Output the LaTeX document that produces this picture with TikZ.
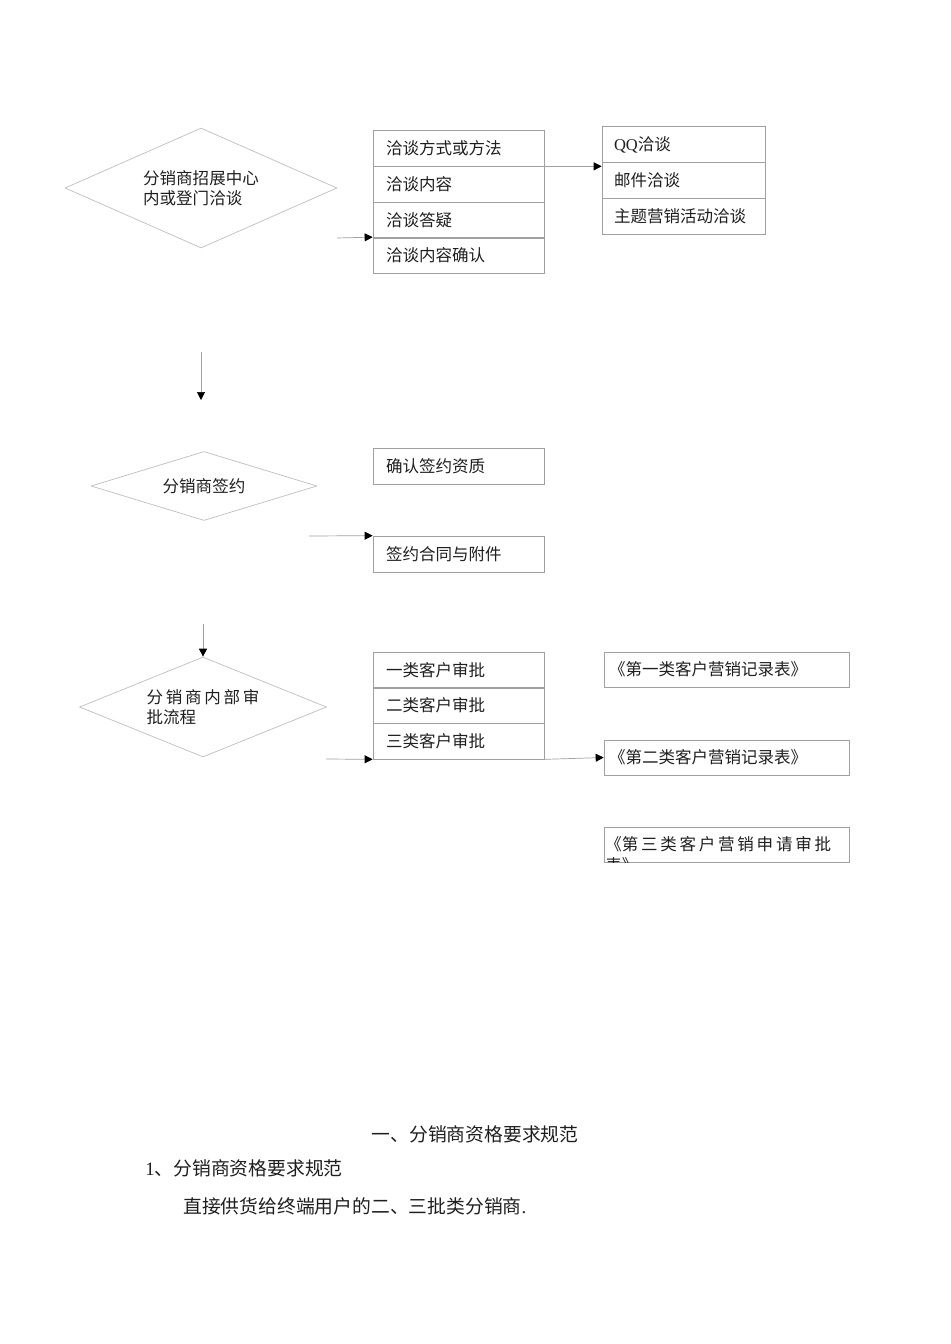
\documentclass[tikz,border=0pt]{standalone}
\usepackage{fontspec}
\setmainfont{Liberation Serif}
\newfontfamily\cjk{Noto Sans CJK SC}
\usetikzlibrary{shapes.geometric,arrows.meta,positioning}
\definecolor{boxgray}{RGB}{160,160,160}
\definecolor{diagray}{RGB}{190,190,190}
\definecolor{inkgray}{RGB}{30,30,30}

\tikzset{
	cell/.style={draw=boxgray,rectangle,minimum width=3.42cm,minimum height=0.72cm,
		text width=2.9cm,inner xsep=0.26cm,inner ysep=0pt,align=left,
		font=\cjk\fontsize{9.4}{11}\selectfont,text=inkgray},
	way/.style={cell,minimum width=3.26cm,text width=2.78cm,inner xsep=0.24cm},
	form/.style={cell,minimum width=4.9cm,minimum height=0.7cm,text width=4.7cm,inner xsep=0.1cm},
	decision/.style={diamond,draw=diagray,inner sep=0pt,align=left,
		font=\cjk\fontsize{9.4}{11.2}\selectfont,text=inkgray},
	flow/.style={draw=boxgray,-{Triangle[black,length=1.6mm,width=1.6mm]}},
	para/.style={inner sep=0pt,font=\cjk\fontsize{10.7}{13}\selectfont,text=inkgray}
}

\begin{document}
\begin{tikzpicture}[x=0.02cm,y=-0.02cm]
	\useasboundingbox (0,0) rectangle (950,1344);
	% first step
	\node[decision,aspect=2.27,minimum width=5.44cm,minimum height=2.4cm] (d1) at (201,188) {分销商招展中心\\内或登门洽谈};
	\node[cell] (t1) at (458.5,148) {洽谈方式或方法};
	\node[cell] (t2) at (458.5,184) {洽谈内容};
	\node[cell] (t3) at (458.5,220) {洽谈答疑};
	\node[cell] (t4) at (458.5,255.5) {洽谈内容确认};
	\node[way] (q1) at (683.5,144.5) {{\rmfamily QQ}洽谈};
	\node[way] (q2) at (683.5,180) {邮件洽谈};
	\node[way] (q3) at (683.5,216) {主题营销活动洽谈};
	\coordinate (d1out) at (337,238);
	\draw[flow] (d1out) -- (t4.north west);
	\draw[flow] (t1.south east) -- (t1.south east -| q1.west);
	\coordinate (down1) at (201,352);
	\coordinate (down1end) at (201,400);
	\draw[flow] (down1) -- (down1end);

	% second step
	\node[decision,aspect=3.28,minimum width=4.52cm,minimum height=1.38cm] (d2) at (204,486) {分销商签约};
	\node[cell] (s1) at (458.5,466.5) {确认签约资质};
	\node[cell] (s2) at (458.5,554) {签约合同与附件};
	\coordinate (d2out) at (309,536);
	\draw[flow] (d2out) -- (s2.north west);

	% third step
	\node[decision,aspect=2.47,minimum width=4.94cm,minimum height=2cm] (d3) at (203,707) {分\,销\,商\,内\,部\,审\\批流程};
	\coordinate (down2) at (203,624);
	\draw[flow] (down2) -- (d3.north);
	\node[cell] (a1) at (458.5,670) {一类客户审批};
	\node[cell] (a2) at (458.5,705.5) {二类客户审批};
	\node[cell] (a3) at (458.5,741) {三类客户审批};
	\node[form] (r1) at (726.5,669.5) {《第一类客户营销记录表》};
	\node[form] (r2) at (726.5,757.5) {《第二类客户营销记录表》};
	\node[form] (r3) at (726.5,844.5) {};
	\begin{scope}
		\clip (r3.south west) rectangle (r3.north east);
		\node[para,font=\cjk\fontsize{9.4}{12}\selectfont,anchor=north west,align=left] (r3txt) at (605,836) {《第\,三\,类\,客\,户\,营\,销\,申\,请\,审\,批\\表》};
	\end{scope}
	\coordinate (d3out) at (326,759);
	\draw[flow] (d3out) -- (a3.south west);
	\draw[flow] (a3.south east) -- (r2.west);

	% text below
	\node[para] (h1) at (475,1134) {一、分销商资格要求规范};
	\node[para,anchor=west] (h2) at (145,1168) {{\rmfamily 1}、分销商资格要求规范};
	\node[para,anchor=west] (h3) at (183,1206) {直接供货给终端用户的二、三批类分销商{\rmfamily .}};
\end{tikzpicture}
\end{document}
